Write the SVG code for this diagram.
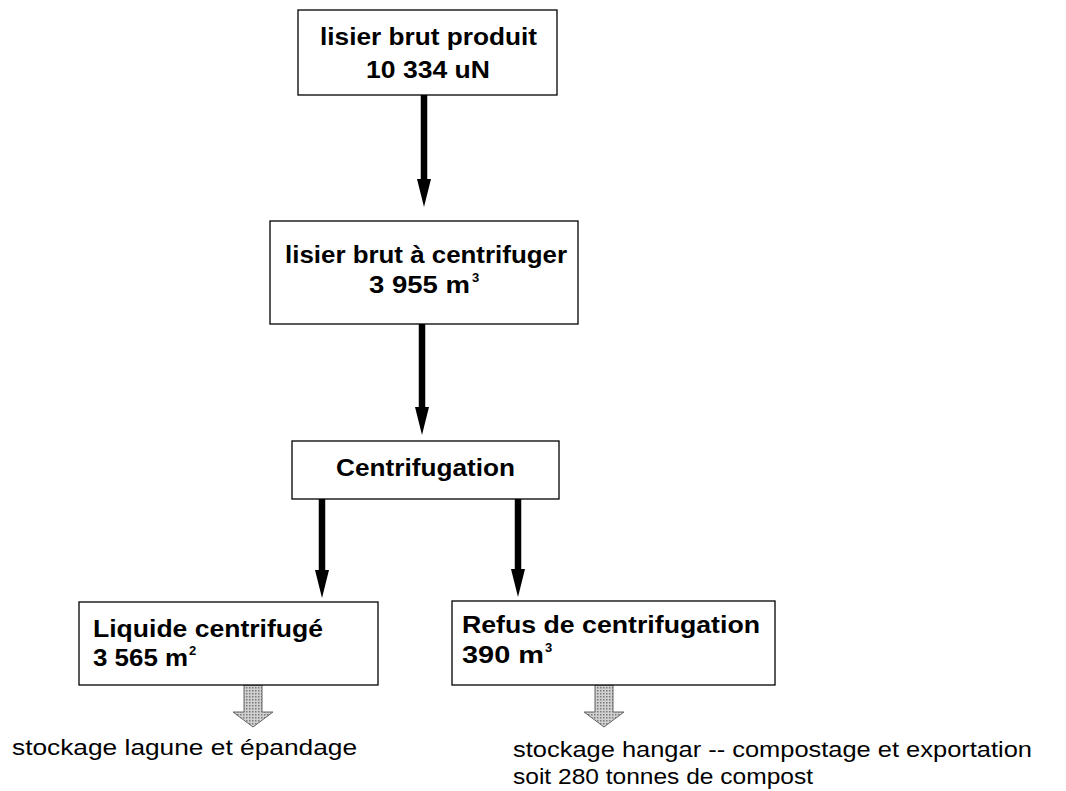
<svg xmlns="http://www.w3.org/2000/svg" width="1066" height="791" viewBox="0 0 1066 791">
<defs>
<style>
.box{fill:#fff;stroke:#000;stroke-width:1.3}
.b{font-family:"Liberation Sans",Arial,sans-serif;font-weight:bold;font-size:23px;fill:#000}
.r{font-family:"Liberation Sans",Arial,sans-serif;font-size:22px;fill:#000}
.sup{font-size:13px}
.conn{stroke:#000;stroke-width:6.5;fill:none}
.gray{fill:url(#dots);stroke:#666;stroke-width:1}
</style>
<pattern id="dots" patternUnits="userSpaceOnUse" width="3" height="3">
<rect width="3" height="3" fill="#d0d0d0"/>
<rect width="1.5" height="1.5" fill="#7a7a7a"/>
</pattern>
<marker id="ah" markerUnits="userSpaceOnUse" markerWidth="28" markerHeight="14" viewBox="0 0 28 14" refX="1" refY="7" orient="auto">
<path d="M0,0 L28,7 L0,14 z" fill="#000"/>
</marker>
</defs>
<rect width="1066" height="791" fill="#fff"/>
<g id="connectors">
<line class="conn" x1="424" y1="95" x2="424" y2="180" marker-end="url(#ah)"/>
<line class="conn" x1="422" y1="324" x2="422" y2="408" marker-end="url(#ah)"/>
<line class="conn" x1="322" y1="499" x2="322" y2="571" marker-end="url(#ah)"/>
<line class="conn" x1="518" y1="499" x2="518" y2="570" marker-end="url(#ah)"/>
<polygon class="gray" points="244,685 262,685 262,712 273,712 253,727 233,712 244,712"/>
<polygon class="gray" points="595,685 613,685 613,712 624,712 604,727 584,712 595,712"/>
</g>
<g id="node-lisier-brut-produit">
<rect class="box" x="298" y="10" width="259" height="85"/>
<text class="b" x="320" y="45" textLength="217" lengthAdjust="spacingAndGlyphs">lisier brut produit</text>
<text class="b" x="366" y="78" textLength="124" lengthAdjust="spacingAndGlyphs">10 334 uN</text>
</g>
<g id="node-lisier-brut-a-centrifuger">
<rect class="box" x="270" y="221" width="308" height="103"/>
<text class="b" x="285" y="263" textLength="282" lengthAdjust="spacingAndGlyphs">lisier brut à centrifuger</text>
<text class="b" x="369" y="293"><tspan textLength="101" lengthAdjust="spacingAndGlyphs">3 955 m</tspan><tspan class="sup" x="472" y="282">3</tspan></text>
</g>
<g id="node-centrifugation">
<rect class="box" x="292" y="441" width="267" height="58"/>
<text class="b" x="336" y="476" textLength="179" lengthAdjust="spacingAndGlyphs">Centrifugation</text>
</g>
<g id="node-liquide-centrifuge">
<rect class="box" x="79" y="602" width="299" height="83"/>
<text class="b" x="93" y="637" textLength="230" lengthAdjust="spacingAndGlyphs">Liquide centrifugé</text>
<text class="b" x="93" y="666"><tspan textLength="95" lengthAdjust="spacingAndGlyphs">3 565 m</tspan><tspan class="sup" x="189" y="655">2</tspan></text>
</g>
<g id="node-refus-de-centrifugation">
<rect class="box" x="452" y="601" width="323" height="84"/>
<text class="b" x="462" y="633" textLength="298" lengthAdjust="spacingAndGlyphs">Refus de centrifugation</text>
<text class="b" x="462" y="663"><tspan textLength="82" lengthAdjust="spacingAndGlyphs">390 m</tspan><tspan class="sup" x="545" y="652">3</tspan></text>
</g>
<g id="label-lagune">
<text class="r" x="12" y="755" textLength="345" lengthAdjust="spacingAndGlyphs">stockage lagune et épandage</text>
</g>
<g id="label-hangar">
<text class="r" x="513" y="757" textLength="519" lengthAdjust="spacingAndGlyphs">stockage hangar -- compostage et exportation</text>
<text class="r" x="513" y="784" textLength="300" lengthAdjust="spacingAndGlyphs">soit 280 tonnes de compost</text>
</g>
</svg>
